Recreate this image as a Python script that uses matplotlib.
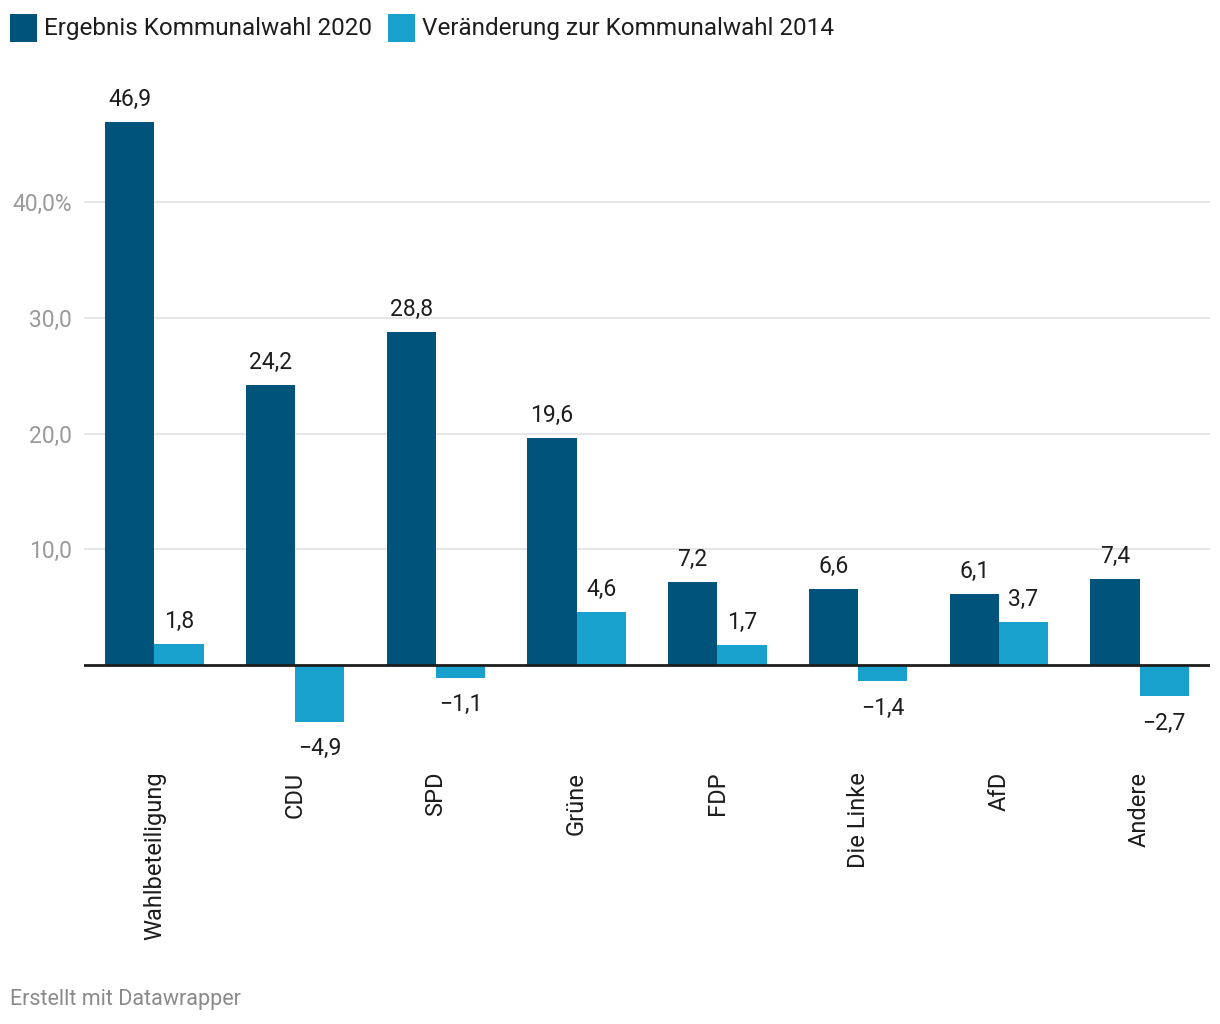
import matplotlib
matplotlib.use("Agg")
import matplotlib.pyplot as plt
from matplotlib.patches import Rectangle
import numpy as np

plt.rcParams['font.family'] = ['Roboto', 'DejaVu Sans']

categories = ["Wahlbeteiligung", "CDU", "SPD", "Grüne", "FDP", "Die Linke", "AfD", "Andere"]
ergebnis_2020 = [46.9, 24.2, 28.8, 19.6, 7.2, 6.6, 6.1, 7.4]
veraenderung_2014 = [1.8, -4.9, -1.1, 4.6, 1.7, -1.4, 3.7, -2.7]
yticks = [10, 20, 30, 40]
ytick_labels = ["10,0", "20,0", "30,0", "40,0%"]
legend_labels = ["Ergebnis Kommunalwahl 2020", "Veränderung zur Kommunalwahl 2014"]

dark = "#00537a"
light = "#18a1cd"
text_col = "#1d1d1d"

W, H = 1220, 1024
fig = plt.figure(figsize=(W / 100, H / 100), dpi=100)

# axes placement in pixel terms
ax_left, ax_right, ax_top, ax_bottom = 84, 1210, 90, 760
ax = fig.add_axes([ax_left / W, 1 - ax_bottom / H, (ax_right - ax_left) / W, (ax_bottom - ax_top) / H])

px_per_unit = 115.75 / 10
zero_px = 665
ymax = (zero_px - ax_top) / px_per_unit
ymin = -(ax_bottom - zero_px) / px_per_unit
ax.set_ylim(ymin, ymax)
ax.set_xlim(-0.5, len(categories) - 0.5)

x = np.arange(len(categories))
bw = 0.35
ax.bar(x - bw / 2, ergebnis_2020, width=bw, color=dark, zorder=3)
ax.bar(x + bw / 2, veraenderung_2014, width=bw, color=light, zorder=3)

def fmt(v):
    s = f"{abs(v):.1f}".replace(".", ",")
    return ("\u2212" + s) if v < 0 else s

for xs, vals in ((x - bw / 2, ergebnis_2020), (x + bw / 2, veraenderung_2014)):
    for xi, v in zip(xs, vals):
        ax.annotate(fmt(v), (xi, v), xytext=(0, 8 if v >= 0 else -11), textcoords="offset points",
                    ha="center", va="bottom" if v >= 0 else "top", fontsize=16.5,
                    color=text_col, zorder=4)

# grid lines
for t in yticks:
    ax.axhline(t, color="#e1e1e1", linewidth=1.2, zorder=1)
ax.axhline(0, color="#1d1d1d", linewidth=2, zorder=5)

ax.set_yticks(yticks)
ax.set_yticklabels(ytick_labels, fontsize=16.5, color="#9a9a9a")
ax.tick_params(axis="y", length=0, pad=8.6)
ax.set_xticks(x)
ax.set_xticklabels(categories, rotation=90, fontsize=17, color=text_col, va="top")
ax.tick_params(axis="x", length=0, pad=8.5)

for s in ax.spines.values():
    s.set_visible(False)

# legend
sq = 27
for lx, lab, col in [(10, legend_labels[0], dark), (388, legend_labels[1], light)]:
    fig.patches.append(Rectangle((lx / W, 1 - 42 / H), sq / W, 28 / H, transform=fig.transFigure,
                                 facecolor=col, edgecolor="none"))
    fig.text((lx + 34) / W, 1 - 28 / H, lab, fontsize=17.5, color=text_col, va="center", ha="left")

fig.text(10 / W, 1 - 1000 / H, "Erstellt mit Datawrapper", fontsize=15.5, color="#8a8a8a",
         va="center", ha="left")

fig.savefig("out.png", dpi=100, facecolor="white")
